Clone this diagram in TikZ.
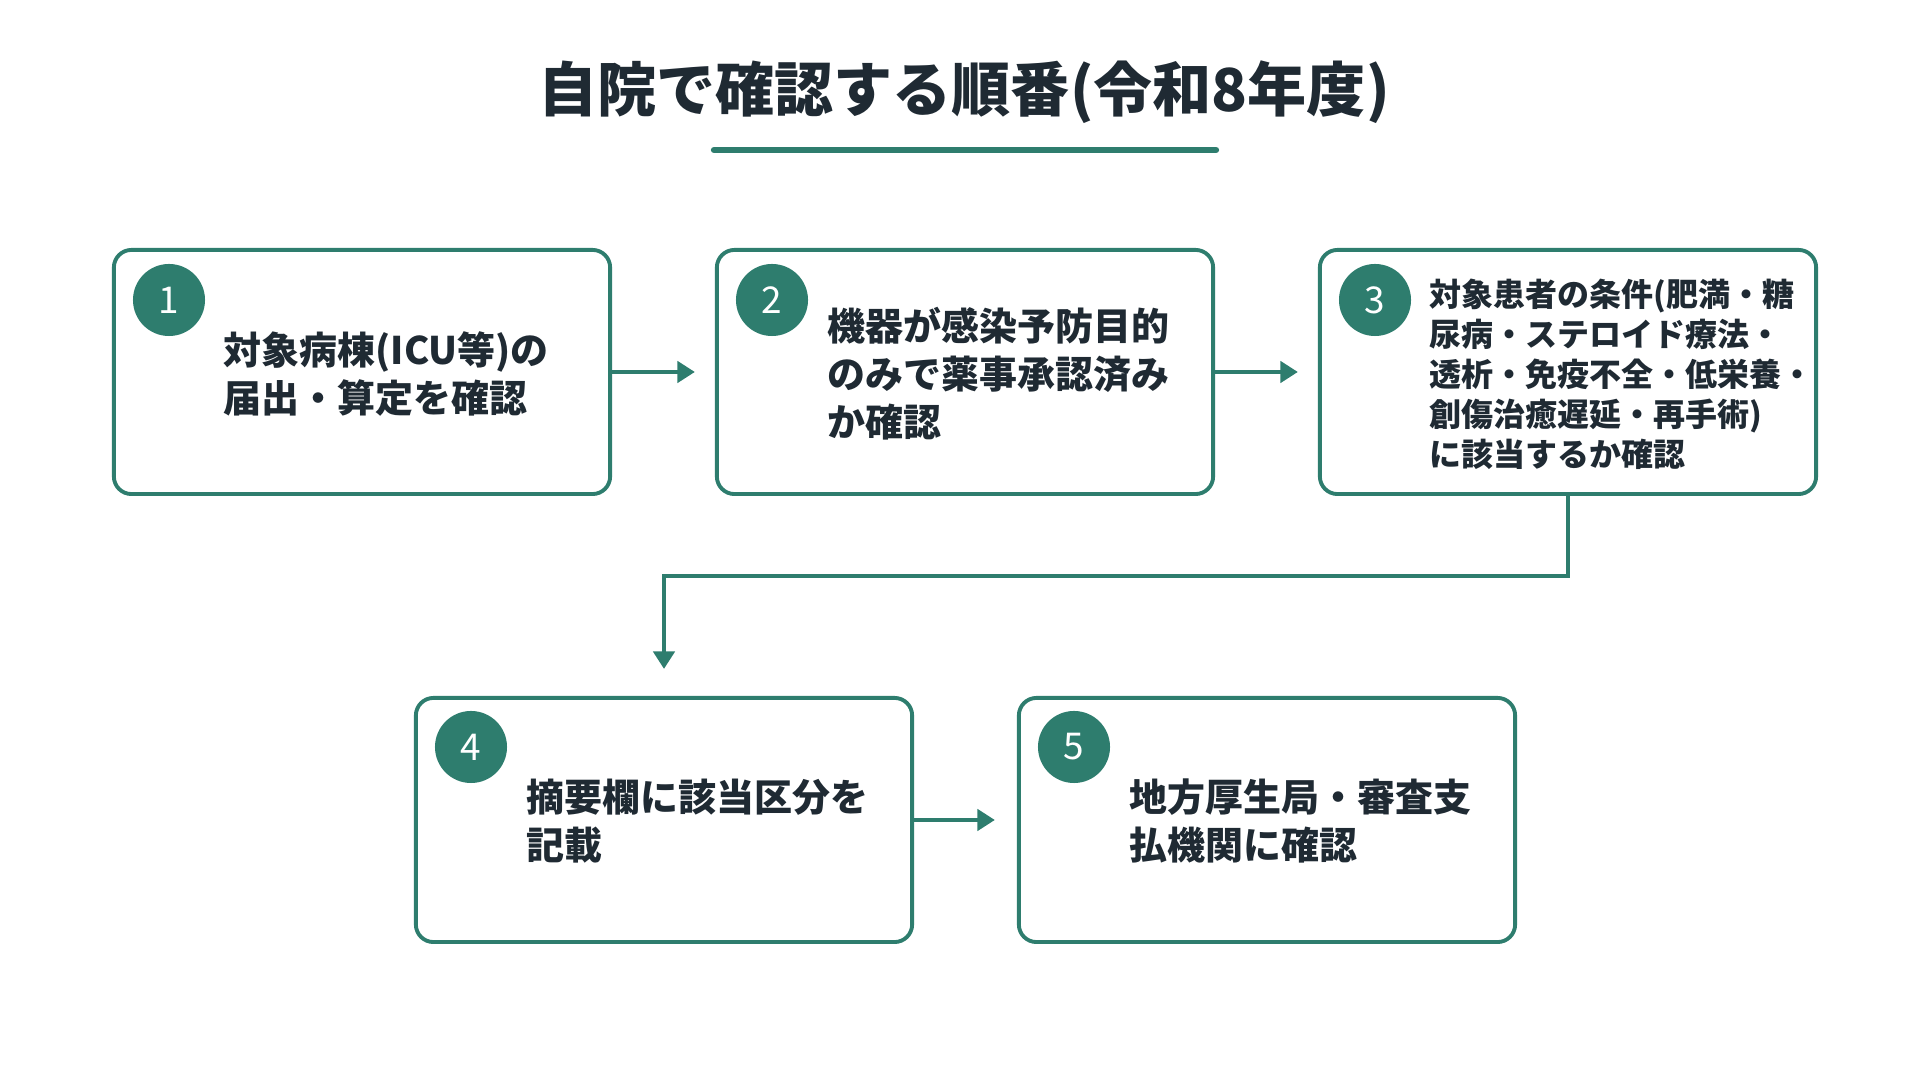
\documentclass[tikz,border=0pt]{standalone}
\usepackage{fontspec}
\setmainfont{Noto Sans CJK JP}
\usetikzlibrary{arrows.meta}
\definecolor{teal}{HTML}{2E7D6E}
\definecolor{ink}{HTML}{1F2A33}

\begin{document}
\begin{tikzpicture}[
    x=0.01cm, y=-0.01cm,
    card/.style={draw=teal, line width=1.1pt, rounded corners=5pt, fill=white, minimum width=4.96cm, minimum height=2.44cm, inner sep=0pt},
    badge/.style={circle, fill=teal, text=white, minimum size=0.72cm, inner sep=0pt, font=\fontsize{10.5}{12}\selectfont},
    txt/.style={anchor=north west, inner sep=0pt, align=left, text=ink, font=\fontsize{10.8}{13.7}\selectfont\bfseries},
    txtsmall/.style={txt, font=\fontsize{9.1}{11.4}\selectfont\bfseries},
    arrow/.style={-{Triangle[length=5pt,width=6pt]}, draw=teal, line width=1.3pt}
]
\useasboundingbox (0,0) rectangle (1920,1080);

% Title
\node[text=ink, font=\fontsize{16.8}{20}\selectfont\bfseries] (title) at (964,92) {自院で確認する順番(令和8年度)};
\draw[teal, line width=1.8pt, line cap=round] (714,150) -- (1216,150);

% Boxes
\node[card] (s1) at (362,372) {};
\node[card] (s2) at (965,372) {};
\node[card] (s3) at (1568,372) {};
\node[card] (s4) at (664,820) {};
\node[card] (s5) at (1267,820) {};

% Badges
\node[badge] (n1) at (169,300) {1};
\node[badge] (n2) at (772,300) {2};
\node[badge] (n3) at (1375,300) {3};
\node[badge] (n4) at (471,747) {4};
\node[badge] (n5) at (1074,747) {5};

% Texts
\node[txt] (t1) at (223,331) {対象病棟(ICU等)の\\届出・算定を確認};
\node[txt] (t2) at (827,306) {機器が感染予防目的\\のみで薬事承認済み\\か確認};
\node[txtsmall] (t3) at (1429,278) {対象患者の条件(肥満・糖\\尿病・ステロイド療法・\\透析・免疫不全・低栄養・\\創傷治癒遅延・再手術)\\に該当するか確認};
\node[txt] (t4) at (526,778) {摘要欄に該当区分を\\記載};
\node[txt] (t5) at (1129,778) {地方厚生局・審査支\\払機関に確認};

% Arrows
\draw[arrow, shorten >=0.2cm] (s1.east) -- (s2.west);
\draw[arrow, shorten >=0.2cm] (s2.east) -- (s3.west);
\draw[arrow, shorten >=0.27cm] (s3.south) -- (1568,576) -| (s4.north);
\draw[arrow, shorten >=0.22cm] (s4.east) -- (s5.west);

\end{tikzpicture}
\end{document}
